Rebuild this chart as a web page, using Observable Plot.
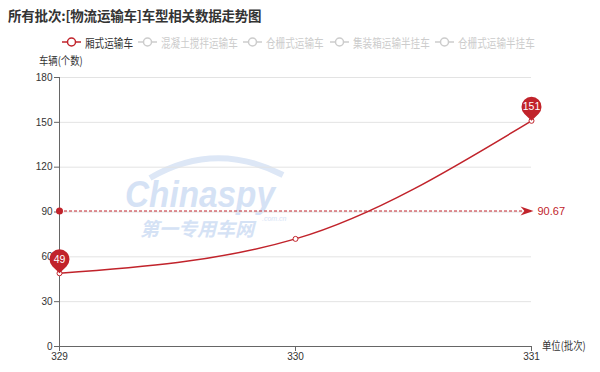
<!DOCTYPE html>
<html><head><meta charset="utf-8">
<script src="https://cdn.jsdelivr.net/npm/d3@7"></script>
<script src="https://cdn.jsdelivr.net/npm/@observablehq/plot@0.6"></script>
<style>
body{margin:0;background:#fff;font-family:"Noto Sans CJK SC","Noto Sans",sans-serif;}
#wrap{position:relative;width:600px;height:372px;overflow:hidden;}
#wm,#chart{position:absolute;left:0;top:0;}
.t{position:absolute;white-space:nowrap;transform-origin:left center;}
#title{left:8px;top:5px;font-size:13.5px;font-weight:bold;color:#333;letter-spacing:-0.2px;line-height:20px;}
.leg{position:absolute;top:34px;height:16px;display:flex;align-items:center;white-space:nowrap;font-size:12px;}
.leg span{display:inline-block;transform:scaleX(0.8);transform-origin:left center;margin-left:4px;}
.axl{font-size:11px;color:#333;line-height:14px;transform:scaleX(0.85);}
</style></head>
<body>
<div id="wrap">
  <svg id="wm" width="600" height="372">
    <path d="M150,178 Q215,140 283,175" fill="none" stroke="#dde7f6" stroke-width="6"/>
    <text x="200" y="207" text-anchor="middle" font-family="Liberation Sans,Arial" font-weight="bold" font-style="italic" font-size="37" fill="#d5e2f5" transform="translate(200,0) scale(0.9,1) translate(-200,0)">Chinaspy</text>
    <text x="262" y="221" text-anchor="start" font-family="Liberation Sans,Arial" font-style="italic" font-size="7" fill="#d5e2f5">.com.cn</text>
    <text x="197" y="236" text-anchor="middle" font-family="Noto Sans CJK SC" font-weight="bold" font-style="italic" font-size="19" fill="#d5e2f5">第一专用车网</text>
  </svg>
  <div id="chart"></div>
  <div id="title" class="t"></div>
  <div id="legend"></div>
  <div class="t axl" id="ylab" style="left:39px;top:53px;"></div>
  <div class="t axl" id="xlab" style="left:542px;top:338px;"></div>
</div>
<script>
const titleText = "所有批次:[物流运输车]车型相关数据走势图";
const seriesNames = ["厢式运输车", "混凝土搅拌运输车", "仓栅式运输车", "集装箱运输半挂车", "仓栅式运输半挂车"];
const legendX = [62, 138, 243, 330, 435];
const batches = [329, 330, 331];
const values = [49, 72, 151];
const yTicks = [0, 30, 60, 90, 120, 150, 180];
const yLabel = "车辆(个数)";
const xLabel = "单位(批次)";
const red = "#c1232b";

document.getElementById("title").textContent = titleText;
document.getElementById("ylab").textContent = yLabel;
document.getElementById("xlab").textContent = xLabel;

const legend = document.getElementById("legend");
seriesNames.forEach((name, i) => {
  const active = i === 0;
  const c = active ? red : "#ccc";
  const el = document.createElement("div");
  el.className = "leg";
  el.style.left = legendX[i] + "px";
  el.innerHTML = `<svg width="19" height="10"><line x1="0" x2="19" y1="5" y2="5" stroke="${c}" stroke-width="1.5"/><circle cx="9.5" cy="5" r="4" fill="#fff" stroke="${c}" stroke-width="1.5"/></svg><span style="color:${active ? "#333" : "#ccc"}">${name}</span>`;
  legend.appendChild(el);
});

const data = batches.map((b, i) => ({batch: b, value: values[i]}));
const avg = d3.mean(values);
const minD = data.find(d => d.value === d3.min(values));
const maxD = data.find(d => d.value === d3.max(values));
const pins = [minD, maxD];

const pin = {
  draw(ctx) {
    const r = 10, cy = -14, d = -cy;
    const b = Math.acos(r / d);
    ctx.moveTo(0, 0);
    ctx.lineTo(r * Math.cos(Math.PI / 2 + b), cy + r * Math.sin(Math.PI / 2 + b));
    ctx.arc(0, cy, r, Math.PI / 2 + b, Math.PI * 2.5 - b, false);
    ctx.closePath();
  }
};
const arrowHead = {
  draw(ctx) {
    ctx.moveTo(2, 0);
    ctx.lineTo(-11, -4.5);
    ctx.lineTo(-7, 0);
    ctx.lineTo(-11, 4.5);
    ctx.closePath();
  }
};

const chart = Plot.plot({
  width: 600, height: 372,
  marginTop: 77, marginBottom: 26, marginLeft: 59, marginRight: 69,
  style: {background: "transparent", fontFamily: "Liberation Sans, Arial, sans-serif", fontSize: "10px", color: "#333"},
  x: {domain: [batches[0], batches[batches.length - 1]]},
  y: {domain: [yTicks[0], yTicks[yTicks.length - 1]]},
  marks: [
    Plot.gridY(yTicks.filter(d => d > 0), {stroke: "#e3e3e3", strokeOpacity: 1, strokeWidth: 1}),
    Plot.ruleX([batches[0]], {stroke: "#666", strokeWidth: 1}),
    Plot.ruleY([yTicks[0]], {stroke: "#666", strokeWidth: 1}),
    Plot.axisY(yTicks, {tickSize: 5, stroke: "#666", fill: "#333", tickPadding: 2, label: null}),
    Plot.axisX(batches, {tickSize: 5, stroke: "#666", fill: "#333", tickPadding: 1, label: null, tickFormat: d => String(d)}),
    Plot.ruleY([avg], {y: d => d, x1: () => batches[0], x2: () => batches[batches.length - 1], stroke: red, strokeDasharray: "3,2", strokeWidth: 1}),
    Plot.dot([avg], {x: () => batches[0], y: d => d, r: 3.5, fill: red}),
    Plot.dot([avg], {x: () => batches[batches.length - 1], y: d => d, r: 5, symbol: arrowHead, fill: red}),
    Plot.text([avg], {x: () => batches[batches.length - 1], y: d => d, text: d => d.toFixed(2), textAnchor: "start", dx: 6, fill: red, fontSize: 11}),
    Plot.line(data, {x: "batch", y: "value", curve: "monotone-x", stroke: red, strokeWidth: 1.5}),
    Plot.dot(data, {x: "batch", y: "value", r: 2.5, fill: "white", stroke: red, strokeWidth: 1}),
    Plot.dot(pins, {x: "batch", y: "value", r: 10, symbol: pin, fill: red}),
    Plot.text(pins, {x: "batch", y: "value", text: d => String(d.value), dy: -14, fill: "white", fontSize: 10.5})
  ]
});
document.getElementById("chart").appendChild(chart);
</script>
</body></html>
